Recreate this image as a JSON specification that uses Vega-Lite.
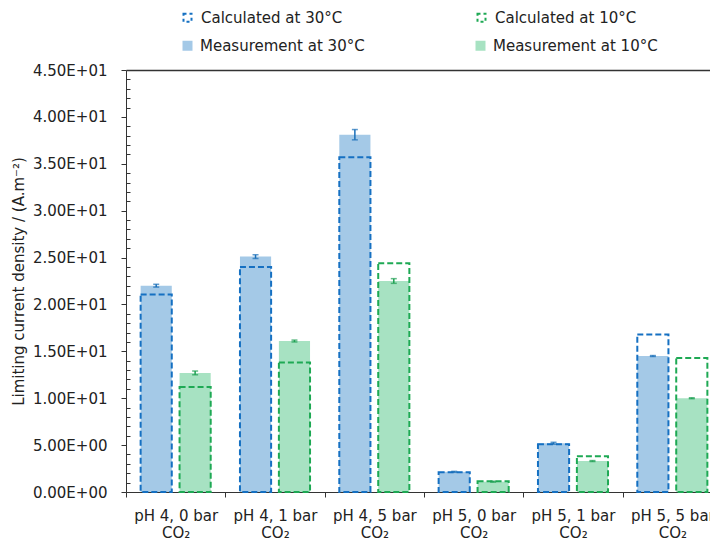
{
  "$schema": "https://vega.github.io/schema/vega-lite/v6.json",
  "autosize": {"type": "none"},
  "width": 584,
  "height": 422,
  "padding": {"left": 126, "top": 70, "right": 0, "bottom": 54},
  "background": "white",
  "config": {
    "view": {"stroke": null},
    "font": "DejaVu Sans",
    "axis": {"labelFont": "DejaVu Sans", "titleFont": "DejaVu Sans", "labelColor": "#222", "titleColor": "#222", "labelFontSize": 15, "titleFontSize": 15, "titleFontWeight": "normal", "domainColor": "#333", "tickColor": "#333"},
    "axisY": {"titlePadding": 6, "labelPadding": 14, "grid": true, "gridWidth": 1.5, "labelOverlap": false},
    "legend": {"labelFont": "DejaVu Sans", "labelFontSize": 15, "labelColor": "#222", "labelLimit": 400}
  },
  "data": {"values": [
    {"cat": "pH 4, 0 bar", "t": "30", "mlab": "Measurement at 30°C", "clab": "Calculated at 30°C", "meas": 22.0, "calc": 21.05, "lo": 21.85, "hi": 22.15},
    {"cat": "pH 4, 0 bar", "t": "10", "mlab": "Measurement at 10°C", "clab": "Calculated at 10°C", "meas": 12.7, "calc": 11.2, "lo": 12.5, "hi": 12.9},
    {"cat": "pH 4, 1 bar", "t": "30", "mlab": "Measurement at 30°C", "clab": "Calculated at 30°C", "meas": 25.1, "calc": 24.0, "lo": 24.9, "hi": 25.3},
    {"cat": "pH 4, 1 bar", "t": "10", "mlab": "Measurement at 10°C", "clab": "Calculated at 10°C", "meas": 16.1, "calc": 13.8, "lo": 16.0, "hi": 16.2},
    {"cat": "pH 4, 5 bar", "t": "30", "mlab": "Measurement at 30°C", "clab": "Calculated at 30°C", "meas": 38.1, "calc": 35.7, "lo": 37.55, "hi": 38.65},
    {"cat": "pH 4, 5 bar", "t": "10", "mlab": "Measurement at 10°C", "clab": "Calculated at 10°C", "meas": 22.5, "calc": 24.4, "lo": 22.25, "hi": 22.75},
    {"cat": "pH 5, 0 bar", "t": "30", "mlab": "Measurement at 30°C", "clab": "Calculated at 30°C", "meas": 2.15, "calc": 2.1, "lo": 2.1, "hi": 2.2},
    {"cat": "pH 5, 0 bar", "t": "10", "mlab": "Measurement at 10°C", "clab": "Calculated at 10°C", "meas": 1.1, "calc": 1.15, "lo": 1.05, "hi": 1.15},
    {"cat": "pH 5, 1 bar", "t": "30", "mlab": "Measurement at 30°C", "clab": "Calculated at 30°C", "meas": 5.2, "calc": 5.1, "lo": 5.1, "hi": 5.3},
    {"cat": "pH 5, 1 bar", "t": "10", "mlab": "Measurement at 10°C", "clab": "Calculated at 10°C", "meas": 3.3, "calc": 3.8, "lo": 3.25, "hi": 3.35},
    {"cat": "pH 5, 5 bar", "t": "30", "mlab": "Measurement at 30°C", "clab": "Calculated at 30°C", "meas": 14.5, "calc": 16.8, "lo": 14.45, "hi": 14.55},
    {"cat": "pH 5, 5 bar", "t": "10", "mlab": "Measurement at 10°C", "clab": "Calculated at 10°C", "meas": 10.0, "calc": 14.3, "lo": 9.95, "hi": 10.05}
  ]},
  "encoding": {
    "x": {"field": "cat", "type": "nominal", "sort": null,
      "scale": {"range": [0, 596], "paddingInner": 0, "paddingOuter": 0},
      "axis": {"title": null, "labelAngle": 0, "tickBand": "extent", "tickSize": 5, "labelPadding": 11, "labelLineHeight": 17, "labelBaseline": "top", "labelExpr": "datum.label ? [datum.label, 'CO₂'] : ''", "domainColor": "#333"}},
    "xOffset": {"field": "t", "type": "nominal", "sort": ["30", "10"], "scale": {"paddingInner": 0.2, "paddingOuter": 0.376}}
  },
  "layer": [
    {
      "mark": {"type": "bar"},
      "encoding": {
        "y": {"field": "meas", "type": "quantitative",
          "scale": {"domain": [0, 45], "nice": false},
          "axis": {"title": "Limiting current density / (A.m⁻²)",
            "values": [0,1,2,3,4,5,6,7,8,9,10,11,12,13,14,15,16,17,18,19,20,21,22,23,24,25,26,27,28,29,30,31,32,33,34,35,36,37,38,39,40,41,42,43,44,45],
            "labelExpr": "datum.value % 5 != 0 ? '' : (datum.value == 0 ? '0.00E+00' : (datum.value < 10 ? format(datum.value, '.2f') + 'E+00' : format(datum.value / 10, '.2f') + 'E+01'))",
            "tickSize": {"condition": {"test": "datum.value % 5 == 0", "value": 5}, "value": -4},
            "gridColor": {"condition": {"test": "datum.value == 45", "value": "#333333"}, "value": "transparent"}}},
        "fill": {"field": "mlab", "type": "nominal",
          "scale": {"domain": ["Measurement at 30°C", "Measurement at 10°C"], "range": ["#a4c9e7", "#a7e2c2"]},
          "legend": {"title": null, "orient": "none", "legendX": 54, "legendY": -32, "direction": "horizontal", "columns": 2, "columnPadding": 108, "symbolType": "square", "symbolSize": 100, "symbolStrokeWidth": 0, "labelOffset": 5, "padding": 0}}
      }
    },
    {
      "mark": {"type": "bar", "fill": "transparent", "strokeWidth": 2, "strokeDash": [6, 3]},
      "encoding": {
        "y": {"field": "calc", "type": "quantitative",
          "axis": {"title": "Limiting current density / (A.m⁻²)",
            "values": [0,1,2,3,4,5,6,7,8,9,10,11,12,13,14,15,16,17,18,19,20,21,22,23,24,25,26,27,28,29,30,31,32,33,34,35,36,37,38,39,40,41,42,43,44,45],
            "labelExpr": "datum.value % 5 != 0 ? '' : (datum.value == 0 ? '0.00E+00' : (datum.value < 10 ? format(datum.value, '.2f') + 'E+00' : format(datum.value / 10, '.2f') + 'E+01'))",
            "tickSize": {"condition": {"test": "datum.value % 5 == 0", "value": 5}, "value": -4},
            "gridColor": {"condition": {"test": "datum.value == 45", "value": "#333333"}, "value": "transparent"}}},
        "stroke": {"field": "clab", "type": "nominal",
          "scale": {"domain": ["Calculated at 30°C", "Calculated at 10°C"], "range": ["#1570c2", "#1ea954"]},
          "legend": {"title": null, "orient": "none", "legendX": 54, "legendY": -60, "direction": "horizontal", "columns": 2, "columnPadding": 130, "symbolType": "square", "symbolSize": 64, "symbolStrokeWidth": 2, "symbolDash": [3, 3], "symbolFillColor": "transparent", "labelOffset": 6, "padding": 0}}
      }
    },
    {
      "mark": {"type": "rule", "strokeWidth": 1.5},
      "encoding": {
        "y": {"field": "lo", "type": "quantitative",
          "axis": {"title": "Limiting current density / (A.m⁻²)",
            "values": [0,1,2,3,4,5,6,7,8,9,10,11,12,13,14,15,16,17,18,19,20,21,22,23,24,25,26,27,28,29,30,31,32,33,34,35,36,37,38,39,40,41,42,43,44,45],
            "labelExpr": "datum.value % 5 != 0 ? '' : (datum.value == 0 ? '0.00E+00' : (datum.value < 10 ? format(datum.value, '.2f') + 'E+00' : format(datum.value / 10, '.2f') + 'E+01'))",
            "tickSize": {"condition": {"test": "datum.value % 5 == 0", "value": 5}, "value": -4},
            "gridColor": {"condition": {"test": "datum.value == 45", "value": "#333333"}, "value": "transparent"}}},
        "y2": {"field": "hi"},
        "color": {"field": "t", "type": "nominal", "scale": {"domain": ["30", "10"], "range": ["#1a6fb8", "#1e9f52"]}, "legend": null}
      }
    },
    {
      "mark": {"type": "tick", "size": 6, "thickness": 1.5},
      "encoding": {
        "y": {"field": "lo", "type": "quantitative",
          "axis": {"title": "Limiting current density / (A.m⁻²)",
            "values": [0,1,2,3,4,5,6,7,8,9,10,11,12,13,14,15,16,17,18,19,20,21,22,23,24,25,26,27,28,29,30,31,32,33,34,35,36,37,38,39,40,41,42,43,44,45],
            "labelExpr": "datum.value % 5 != 0 ? '' : (datum.value == 0 ? '0.00E+00' : (datum.value < 10 ? format(datum.value, '.2f') + 'E+00' : format(datum.value / 10, '.2f') + 'E+01'))",
            "tickSize": {"condition": {"test": "datum.value % 5 == 0", "value": 5}, "value": -4},
            "gridColor": {"condition": {"test": "datum.value == 45", "value": "#333333"}, "value": "transparent"}}},
        "color": {"field": "t", "type": "nominal", "legend": null}
      }
    },
    {
      "mark": {"type": "tick", "size": 6, "thickness": 1.5},
      "encoding": {
        "y": {"field": "hi", "type": "quantitative",
          "axis": {"title": "Limiting current density / (A.m⁻²)",
            "values": [0,1,2,3,4,5,6,7,8,9,10,11,12,13,14,15,16,17,18,19,20,21,22,23,24,25,26,27,28,29,30,31,32,33,34,35,36,37,38,39,40,41,42,43,44,45],
            "labelExpr": "datum.value % 5 != 0 ? '' : (datum.value == 0 ? '0.00E+00' : (datum.value < 10 ? format(datum.value, '.2f') + 'E+00' : format(datum.value / 10, '.2f') + 'E+01'))",
            "tickSize": {"condition": {"test": "datum.value % 5 == 0", "value": 5}, "value": -4},
            "gridColor": {"condition": {"test": "datum.value == 45", "value": "#333333"}, "value": "transparent"}}},
        "color": {"field": "t", "type": "nominal", "legend": null}
      }
    }
  ]
}
